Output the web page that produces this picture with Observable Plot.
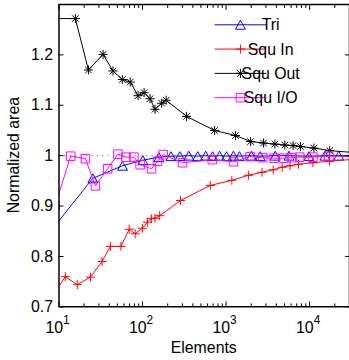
<!DOCTYPE html>
<html><head><meta charset="utf-8">
<script src="https://cdn.jsdelivr.net/npm/d3@7"></script>
<script src="https://cdn.jsdelivr.net/npm/@observablehq/plot@0.6"></script>
<style>
body{margin:0;background:#fff;overflow:hidden}
#chart{width:349px;height:360px;overflow:hidden}
svg text{font-family:"Liberation Sans",Arial,Helvetica,sans-serif}
</style></head><body><div id="chart"></div>
<script>
// ---- data ----
const seriesNames = ["Tri", "Squ In", "Squ Out", "Squ I/O"];
const seriesColors = ["#0000ff", "#ff0000", "#000000", "#ff00ff"];

const triN = [8, 25.4, 57.6, 101, 157, 219, 280, 358, 458, 570, 690, 836, 1012, 1225, 1445, 2006, 2566, 3870, 5675, 9817, 15210, 22290, 35000];
const triV = [0.851, 0.955, 0.980, 0.991, 0.997, 0.999, 0.999, 1.0, 0.999, 1.0, 0.999, 1.0, 0.999, 1.0, 0.999, 1.0, 0.999, 1.0, 1.0, 0.999, 1.0, 1.0, 1.0];

const sqInN = [9, 11.9, 16.55, 23.8, 32.8, 41.2, 55.2, 69.2, 81.6, 99.6, 114.2, 127.4, 141, 160.4, 285, 648, 1171, 1849, 2690, 3664, 4688, 5834, 7364, 10940, 17290, 35000];
const sqInV = [0.729, 0.760, 0.744, 0.759, 0.790, 0.820, 0.820, 0.854, 0.845, 0.856, 0.868, 0.875, 0.876, 0.881, 0.911, 0.941, 0.951, 0.961, 0.967, 0.972, 0.977, 0.980, 0.983, 0.986, 0.989, 0.993];

const sqOutN = [9, 15.7, 22.5, 33.7, 44.3, 57.2, 71.2, 88.5, 104.4, 123, 141, 169.4, 192, 336, 729, 1295, 1968, 2811, 3840, 5047, 6339, 7782, 11250, 17420, 35000];
const sqOutV = [1.272, 1.272, 1.170, 1.201, 1.168, 1.151, 1.146, 1.119, 1.125, 1.113, 1.092, 1.104, 1.110, 1.078, 1.050, 1.040, 1.028, 1.025, 1.023, 1.021, 1.020, 1.018, 1.015, 1.010, 1.006];

const sqIoN = [9, 13.8, 20.7, 27.3, 38.2, 50.8, 63.2, 78.9, 93.6, 128.2, 151, 176.6, 301, 684, 1225, 1936, 2749, 3765, 4909, 6166, 7603, 10940, 16980, 35000];
const sqIoV = [0.901, 0.999, 0.994, 0.940, 0.974, 1.003, 0.997, 0.997, 0.982, 0.974, 0.989, 1.002, 0.986, 0.992, 0.988, 0.998, 0.996, 0.995, 0.995, 0.996, 0.997, 0.997, 0.999, 0.998];

const xMajorTicks = [10, 100, 1000, 10000];
const xMinorTicks = [20,30,40,50,60,70,80,90,200,300,400,500,600,700,800,900,2000,3000,4000,5000,6000,7000,8000,9000,20000];
const yTicks = [0.7, 0.8, 0.9, 1.0, 1.1, 1.2];
const xDomain = [10, 30000];
const yDomain = [0.7, 1.3];
const xTitle = "Elements";
const yTitle = "Normalized area";

// ---- marker shapes (MATLAB-like) ----
const symTri = {draw(c){c.moveTo(0,-4.5);c.lineTo(5,4.5);c.lineTo(-5,4.5);c.closePath();}};
const symPlus = {draw(c){c.moveTo(-4.5,0);c.lineTo(4.5,0);c.moveTo(0,-4.5);c.lineTo(0,4.5);}};
const symStar = {draw(c){const r=4.6,d=3.3;c.moveTo(-r,0);c.lineTo(r,0);c.moveTo(0,-r);c.lineTo(0,r);c.moveTo(-d,-d);c.lineTo(d,d);c.moveTo(-d,d);c.lineTo(d,-d);}};
const symSq = {draw(c){c.rect(-4.3,-4.3,8.6,8.6);}};
const symbols = [symTri, symPlus, symStar, symSq];

const allN = [triN, sqInN, sqOutN, sqIoN];
const allV = [triV, sqInV, sqOutV, sqIoV];
const series = seriesNames.map((name, i) => ({
  name, color: seriesColors[i], symbol: symbols[i],
  data: allN[i].map((n, j) => ({N: n, V: allV[i][j]}))
}));

const W = 352, H = 360, mL = 59, mR = 0, mT = 4, mB = 51;
const fs = 16;

const marks = [
  Plot.ruleY([1], {stroke: "#8c8c8c", strokeDasharray: "1.5,4", strokeWidth: 1}),
];
for (const s of series) {
  marks.push(Plot.line(s.data, {x: "N", y: "V", stroke: s.color, strokeWidth: 1, clip: true}));
  marks.push(Plot.dot(s.data, {x: "N", y: "V", symbol: s.symbol, stroke: s.color, fill: "none", strokeWidth: 1, clip: true}));
}
marks.push(
  Plot.axisX(xMajorTicks, {anchor: "bottom", tickSize: -5, tickPadding: 20, tickFormat: () => "10", fontSize: fs, label: null}),
  Plot.axisX(xMinorTicks, {anchor: "bottom", tickSize: -3, tickFormat: () => "", label: null}),
  Plot.axisX(xMajorTicks, {anchor: "top", tickSize: -5, tickFormat: () => "", label: null}),
  Plot.axisX(xMinorTicks, {anchor: "top", tickSize: -3, tickFormat: () => "", label: null}),
  Plot.axisY(yTicks, {anchor: "left", tickSize: -5, tickPadding: 11, tickFormat: d => String(+d.toFixed(1)), fontSize: fs, label: null}),
  Plot.axisY(yTicks, {anchor: "right", tickSize: -5, tickFormat: () => "", label: null}),
  Plot.ruleX([xDomain[0]], {stroke: "black", strokeWidth: 1.5}),
  Plot.ruleX([xDomain[1]], {stroke: "black", strokeWidth: 1.5}),
  Plot.ruleY([yDomain[0]], {stroke: "black", strokeWidth: 1.5}),
  Plot.ruleY([yDomain[1]], {stroke: "black", strokeWidth: 1.5})
);

const chart = Plot.plot({
  width: W, height: H,
  marginLeft: mL, marginRight: mR, marginTop: mT, marginBottom: mB,
  style: {background: "white", color: "black", fontSize: fs + "px", fontFamily: "'Liberation Sans', Arial, sans-serif", overflow: "visible"},
  x: {type: "log", domain: xDomain},
  y: {domain: yDomain},
  marks
});

const svg = d3.select(chart);
// drop the empty labels of minor / mirrored axes
svg.selectAll('g[aria-label$="tick label"] text').filter(function() { return this.textContent === ""; }).remove();
// superscripts on the decade labels
svg.selectAll('g[aria-label="x-axis tick label"] text').filter(function() { return this.textContent === "10"; })
  .each(function(d, i) {
    const t = d3.select(this);
    t.attr("dx", -1.5);
    t.append("tspan").attr("dy", -9).attr("font-size", 12)
      .text(String(Math.round(Math.log10(xMajorTicks[i]))));
  });
// axis titles
svg.append("text").attr("x", (mL + W - mR) / 2).attr("y", 356)
  .attr("text-anchor", "middle").attr("font-size", fs).attr("fill", "black").text(xTitle);
svg.append("text").attr("transform", `translate(19.5,${(mT + H - mB) / 2}) rotate(-90)`)
  .attr("text-anchor", "middle").attr("font-size", fs).attr("fill", "black").text(yTitle);
// legend
const lg = svg.append("g").attr("aria-label", "legend");
const rowY = [25, 49.5, 74, 98.5];
series.forEach((s, i) => {
  const y = rowY[i];
  lg.append("line").attr("x1", 216.5).attr("x2", 268.5).attr("y1", y).attr("y2", y)
    .attr("stroke", s.color).attr("stroke-width", 1);
  const p = d3.path(); s.symbol.draw(p);
  lg.append("path").attr("d", p.toString()).attr("transform", `translate(242.5,${y})`)
    .attr("fill", "none").attr("stroke", s.color).attr("stroke-width", 1);
  lg.append("text").attr("x", 273).attr("y", y).attr("dy", "0.35em")
    .attr("font-size", fs).attr("fill", "black").text(s.name);
});

document.getElementById("chart").appendChild(chart);
</script>
</body></html>
